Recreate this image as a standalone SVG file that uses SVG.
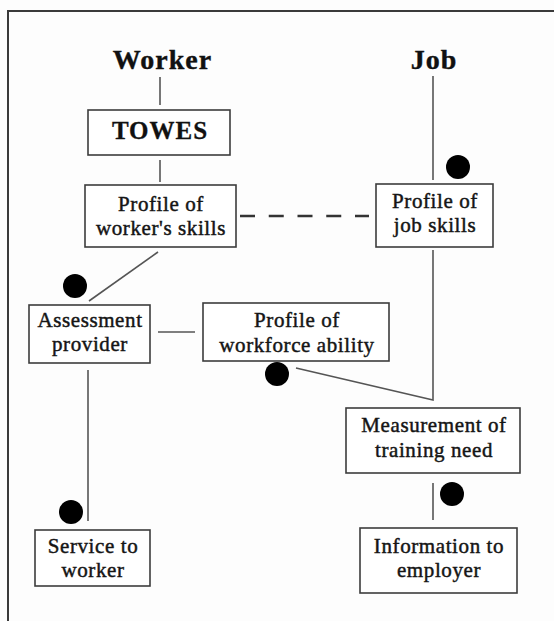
<svg xmlns="http://www.w3.org/2000/svg" width="554" height="621" viewBox="0 0 554 621">
<style>
.bg{fill:#fdfdfd}
.frame{fill:none;stroke:#3a3a3a;stroke-width:2}
.box{fill:#ffffff;stroke:#3c3c3c;stroke-width:1.6}
.ln{fill:none;stroke:#555;stroke-width:1.6}
.dash{fill:none;stroke:#333;stroke-width:2.6;stroke-dasharray:15 13.75}
.dot{fill:#000}
.h{font-family:"Liberation Serif","Times New Roman",serif;font-weight:bold;font-size:28px;fill:#111;stroke:#111;stroke-width:0.4;text-anchor:middle;letter-spacing:1px}
.t{font-family:"Liberation Serif","Times New Roman",serif;font-weight:bold;font-size:25px;fill:#111;stroke:#111;stroke-width:0.3;text-anchor:middle;letter-spacing:1px}
.b{font-family:"Liberation Serif","Times New Roman",serif;font-size:21px;fill:#151515;stroke:#151515;stroke-width:0.45;text-anchor:middle;letter-spacing:0.6px}
</style>
<rect class="bg" x="0" y="0" width="554" height="621"/>
<path class="frame" d="M8,621 V11 H554"/>

<g id="connectors">
  <line class="ln" x1="160" y1="77" x2="160" y2="105"/>
  <line class="ln" x1="160" y1="160" x2="160" y2="182"/>
  <line class="ln" x1="433" y1="76" x2="433" y2="180"/>
  <line class="dash" x1="240" y1="216" x2="369" y2="216"/>
  <line class="ln" x1="158" y1="252" x2="89" y2="301"/>
  <line class="ln" x1="158" y1="332" x2="195" y2="332"/>
  <polyline class="ln" points="433,250 433,400 296,368"/>
  <line class="ln" x1="88" y1="370" x2="88" y2="521"/>
  <line class="ln" x1="433" y1="483" x2="433" y2="520"/>
  <circle class="dot" cx="458" cy="167" r="12"/>
  <circle class="dot" cx="75" cy="286" r="12"/>
  <circle class="dot" cx="277" cy="374" r="12"/>
  <circle class="dot" cx="452" cy="494" r="12"/>
  <circle class="dot" cx="71" cy="512" r="12"/>
</g>

<g id="worker-label"><text class="h" x="162.5" y="69">Worker</text></g>
<g id="job-label"><text class="h" x="434" y="69">Job</text></g>

<g id="towes">
  <rect class="box" x="88" y="110" width="142" height="45"/>
  <text class="t" x="160" y="139">TOWES</text>
</g>
<g id="profile-worker">
  <rect class="box" x="85" y="185" width="151" height="62"/>
  <text class="b" x="161" y="211">Profile of</text>
  <text class="b" x="161" y="235">worker's skills</text>
</g>
<g id="profile-job">
  <rect class="box" x="376" y="184" width="117" height="63"/>
  <text class="b" x="435" y="208">Profile of</text>
  <text class="b" x="435" y="232">job skills</text>
</g>
<g id="assessment">
  <rect class="box" x="29" y="305" width="121" height="58"/>
  <text class="b" x="90" y="327">Assessment</text>
  <text class="b" x="90" y="351">provider</text>
</g>
<g id="profile-workforce">
  <rect class="box" x="203" y="303" width="186" height="58"/>
  <text class="b" x="297" y="327">Profile of</text>
  <text class="b" x="297" y="352">workforce ability</text>
</g>
<g id="measurement">
  <rect class="box" x="346" y="408" width="174" height="65"/>
  <text class="b" x="434" y="432">Measurement of</text>
  <text class="b" x="434" y="457">training need</text>
</g>
<g id="service">
  <rect class="box" x="35" y="530" width="115" height="56"/>
  <text class="b" x="93" y="553">Service to</text>
  <text class="b" x="93" y="577">worker</text>
</g>
<g id="information">
  <rect class="box" x="360" y="528" width="157" height="65"/>
  <text class="b" x="439" y="553">Information to</text>
  <text class="b" x="439" y="577">employer</text>
</g>
</svg>
